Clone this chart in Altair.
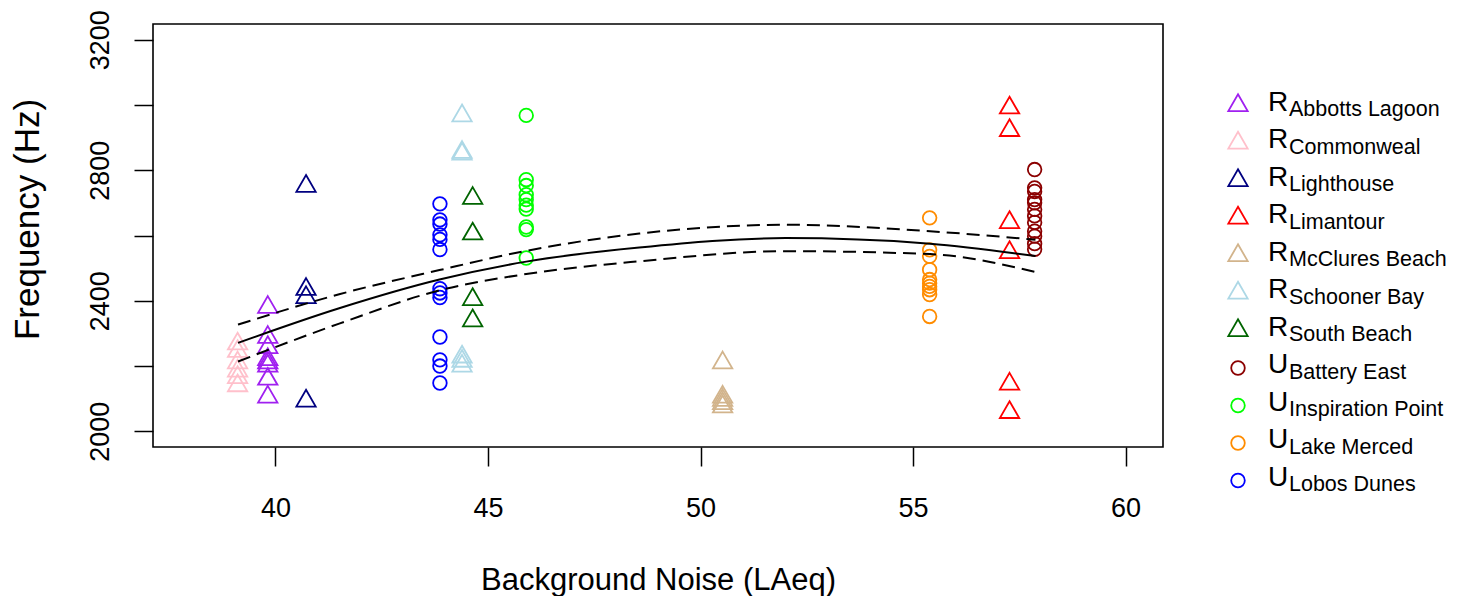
import altair as alt
import pandas as pd

# ---------------- data ----------------
site_names = ["Abbotts Lagoon", "Commonweal", "Lighthouse", "Limantour", "McClures Beach",
              "Schooner Bay", "South Beach", "Battery East", "Inspiration Point",
              "Lake Merced", "Lobos Dunes"]
site_groups = ["R", "R", "R", "R", "R", "R", "R", "U", "U", "U", "U"]
site_colors = ["#A020F0", "#FFC0CB", "#000080", "#FF0000", "#D2B48C", "#ADD8E6",
               "#006400", "#8B0000", "#00FF00", "#FF8C00", "#0000FF"]
site_noise = [39.82, 39.11, 40.72, 57.27, 50.52, 44.39, 44.64, 57.86, 45.90, 55.39, 43.87]

freq_abbotts_lagoon = [2380, 2288, 2257, 2220, 2210, 2200, 2160, 2105]
freq_commonweal = [2268, 2245, 2210, 2185, 2165, 2140]
freq_lighthouse = [2751, 2435, 2410, 2093]
freq_limantour = [2991, 2922, 2640, 2548, 2145, 2058]
freq_mcclures_beach = [2210, 2105, 2095, 2085, 2075]
freq_schooner_bay = [2967, 2855, 2850, 2228, 2215, 2200]
freq_south_beach = [2714, 2605, 2404, 2339]
freq_battery_east = [2802, 2746, 2735, 2710, 2700, 2680, 2660, 2640, 2613, 2598, 2575, 2558]
freq_inspiration_point = [2968, 2771, 2753, 2725, 2710, 2693, 2681, 2626, 2618, 2531]
freq_lake_merced = [2654, 2556, 2536, 2495, 2465, 2454, 2444, 2434, 2419, 2352]
freq_lobos_dunes = [2697, 2648, 2635, 2602, 2588, 2557, 2437, 2424, 2410, 2289, 2219, 2200, 2148]

site_freqs = [freq_abbotts_lagoon, freq_commonweal, freq_lighthouse, freq_limantour,
              freq_mcclures_beach, freq_schooner_bay, freq_south_beach, freq_battery_east,
              freq_inspiration_point, freq_lake_merced, freq_lobos_dunes]

fit_noise = [39.12, 41.5, 43.86, 45.9, 48.56, 52.0, 55.4, 57.88]
fit_mean = [2271, 2377, 2465, 2520, 2563, 2592, 2575, 2537]
fit_upper = [2327, 2420, 2494, 2553, 2606, 2633, 2613, 2587]
fit_lower = [2214, 2330, 2432, 2482, 2521, 2552, 2543, 2488]

# ---------------- tables ----------------
rows = []
for name, grp, nx, fs in zip(site_names, site_groups, site_noise, site_freqs):
    for f in fs:
        rows.append({"site": name, "group": grp, "noise": nx, "freq": f})
pts = pd.DataFrame(rows)

curve = pd.DataFrame({"noise": fit_noise * 3,
                      "freq": fit_mean + fit_upper + fit_lower,
                      "band": ["fit"] * len(fit_noise) + ["upper"] * len(fit_noise) + ["lower"] * len(fit_noise)})

legend_df = pd.DataFrame({"site": site_names, "group": site_groups})

FONT = "Liberation Sans"
TRI = "M0,-1L0.866,0.5L-0.866,0.5Z"
color_scale = alt.Scale(domain=site_names, range=site_colors)

x_scale = alt.Scale(domain=[37.12, 60.88], nice=False, zero=False)
y_scale = alt.Scale(domain=[1952, 3248], nice=False, zero=False)

x_axis = alt.Axis(values=[40, 45, 50, 55, 60], title="Background Noise (LAeq)",
                  grid=False, domain=False, tickSize=19, tickWidth=1.5, tickColor="black",
                  labelFontSize=27, labelPadding=50, labelBaseline="alphabetic",
                  labelOverlap=False, labelFlush=False,
                  titleFontSize=31, titleY=142, titleBaseline="alphabetic")
y_axis = alt.Axis(values=[2000, 2200, 2400, 2600, 2800, 3000, 3200], title="Frequency (Hz)",
                  format="d", grid=False, domain=False, tickSize=19, tickWidth=1.5,
                  tickColor="black",
                  labelExpr="datum.value % 400 == 0 ? datum.label : ''",
                  labelAngle=270, labelAlign="center", labelBaseline="alphabetic",
                  labelFontSize=27, labelPadding=26, labelOverlap=False, labelFlush=False,
                  titleFontSize=35, titleX=-115, titleY=195, titleBaseline="alphabetic")

base = alt.Chart(pts)
enc = dict(x=alt.X("noise:Q", scale=x_scale, axis=x_axis),
           y=alt.Y("freq:Q", scale=y_scale, axis=y_axis),
           color=alt.Color("site:N", scale=color_scale, legend=None))

tri = base.transform_filter(alt.datum.group == "R").mark_point(
    shape=TRI, size=500, filled=False, strokeWidth=1.8, opacity=1).encode(**enc)
circ = base.transform_filter(alt.datum.group == "U").mark_point(
    shape="circle", size=185, filled=False, strokeWidth=1.8, opacity=1).encode(**enc)

cbase = alt.Chart(curve)
fit_line = cbase.transform_filter(alt.datum.band == "fit").mark_line(
    color="black", strokeWidth=2, interpolate="monotone").encode(
    x=alt.X("noise:Q", scale=x_scale), y=alt.Y("freq:Q", scale=y_scale))
ci_lines = cbase.transform_filter(alt.datum.band != "fit").mark_line(
    color="black", strokeWidth=2, strokeDash=[13, 7], interpolate="monotone").encode(
    x=alt.X("noise:Q", scale=x_scale), y=alt.Y("freq:Q", scale=y_scale), detail="band:N")

main = alt.layer(tri, circ, fit_line, ci_lines).properties(
    width=1010, height=423,
    view=alt.ViewBackground(stroke="black", strokeWidth=1.6))

ly = alt.Y("site:N", sort=site_names, axis=None,
           scale=alt.Scale(type="point", padding=0, range=[81.5, 456.5]))
lbase = alt.Chart(legend_df)
l_tri = lbase.transform_filter(alt.datum.group == "R").mark_point(
    shape=TRI, size=500, filled=False, strokeWidth=1.8, opacity=1).encode(
    x=alt.value(15), y=ly, color=alt.Color("site:N", scale=color_scale, legend=None))
l_circ = lbase.transform_filter(alt.datum.group == "U").mark_point(
    shape="circle", size=185, filled=False, strokeWidth=1.8, opacity=1).encode(
    x=alt.value(15), y=ly, color=alt.Color("site:N", scale=color_scale, legend=None))
l_letter = lbase.mark_text(align="left", baseline="alphabetic", fontSize=28, font=FONT,
                           color="black", dy=5).encode(
    x=alt.value(45), y=ly, text="group:N")
l_sub = lbase.mark_text(align="left", baseline="alphabetic", fontSize=21.5, font=FONT,
                        color="black", dy=10.7).encode(
    x=alt.value(66), y=ly, text="site:N")

legend = alt.layer(l_tri, l_circ, l_letter, l_sub).properties(
    width=225, height=470,
    view=alt.ViewBackground(stroke="transparent"))

chart = alt.hconcat(main, legend, spacing=58).properties(
    padding={"left": 1, "top": 0, "right": 0, "bottom": 0}
).configure_axis(
    labelFont=FONT, titleFont=FONT, labelColor="black", titleColor="black",
    titleFontWeight="normal"
).resolve_scale(color="shared")

chart.save("out.html", embed_options={"renderer": "svg", "actions": False})
